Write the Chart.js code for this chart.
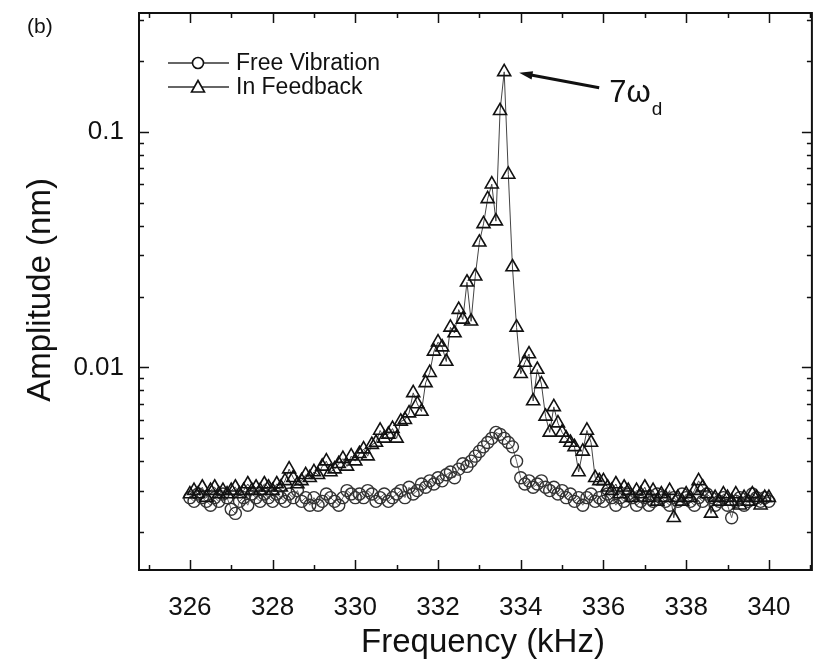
<!DOCTYPE html>
<html lang="en">
<head>
    <meta charset="UTF-8">
    <title>Amplitude vs Frequency</title>
    <script src="https://cdn.jsdelivr.net/npm/chart.js"></script>
    <style>
        body { margin: 0; background: #fff; }
        #chart { display: block; }
    </style>
</head>
<body>
    <canvas id="chart" width="821" height="665"></canvas>

<script>
    // frequency axis (kHz)
    const freq = [
        326.0, 326.1, 326.2, 326.3, 326.4, 326.5, 326.6, 326.7, 326.8, 326.9,
        327.0, 327.1, 327.2, 327.3, 327.4, 327.5, 327.6, 327.7, 327.8, 327.9,
        328.0, 328.1, 328.2, 328.3, 328.4, 328.5, 328.6, 328.7, 328.8, 328.9,
        329.0, 329.1, 329.2, 329.3, 329.4, 329.5, 329.6, 329.7, 329.8, 329.9,
        330.0, 330.1, 330.2, 330.3, 330.4, 330.5, 330.6, 330.7, 330.8, 330.9,
        331.0, 331.1, 331.2, 331.3, 331.4, 331.5, 331.6, 331.7, 331.8, 331.9,
        332.0, 332.1, 332.2, 332.3, 332.4, 332.5, 332.6, 332.7, 332.8, 332.9,
        333.0, 333.1, 333.2, 333.3, 333.4, 333.5, 333.6, 333.7, 333.8, 333.9,
        334.0, 334.1, 334.2, 334.3, 334.4, 334.5, 334.6, 334.7, 334.8, 334.9,
        335.0, 335.1, 335.2, 335.3, 335.4, 335.5, 335.6, 335.7, 335.8, 335.9,
        336.0, 336.1, 336.2, 336.3, 336.4, 336.5, 336.6, 336.7, 336.8, 336.9,
        337.0, 337.1, 337.2, 337.3, 337.4, 337.5, 337.6, 337.7, 337.8, 337.9,
        338.0, 338.1, 338.2, 338.3, 338.4, 338.5, 338.6, 338.7, 338.8, 338.9,
        339.0, 339.1, 339.2, 339.3, 339.4, 339.5, 339.6, 339.7, 339.8, 339.9,
        340.0
    ];

    // Free Vibration amplitude (nm)
    const freeVibration = [
        0.0028, 0.0027, 0.0029, 0.0028, 0.0027, 0.0026, 0.0028, 0.0027, 0.0029, 0.0028,
        0.0025, 0.0024, 0.0027, 0.0028, 0.0026, 0.0029, 0.0028, 0.0027, 0.0029, 0.0028,
        0.0027, 0.0029, 0.0028, 0.0027, 0.0029, 0.0028, 0.0030, 0.0027, 0.0028, 0.0026,
        0.0028, 0.0026, 0.0027, 0.0029, 0.0028, 0.0027, 0.0026, 0.0028, 0.0030, 0.0029,
        0.0028, 0.0029, 0.0028, 0.0030, 0.0029, 0.0027, 0.0028, 0.0029, 0.0027, 0.0028,
        0.0029, 0.0030, 0.0028, 0.0031, 0.0029, 0.0030, 0.0032, 0.0031, 0.0033, 0.0032,
        0.0034, 0.0033, 0.0035, 0.0036, 0.0034, 0.0037, 0.0039, 0.0038, 0.0040, 0.0042,
        0.0044, 0.0046, 0.0048, 0.0050, 0.0053, 0.0052, 0.0050, 0.0048, 0.0046, 0.0040,
        0.0034, 0.0032, 0.0033, 0.0031, 0.0032, 0.0033, 0.0031, 0.0030, 0.0031, 0.0029,
        0.0030, 0.0028, 0.0029, 0.0027, 0.0028, 0.0026, 0.0028, 0.0029, 0.0027, 0.0028,
        0.0027, 0.0029, 0.0028, 0.0026, 0.0028, 0.0027, 0.0029, 0.0028, 0.0026, 0.0027,
        0.0028, 0.0026, 0.0027, 0.0029, 0.0028, 0.0027, 0.0026, 0.0028, 0.0027, 0.0029,
        0.0028, 0.0027, 0.0026, 0.0028, 0.0027, 0.0029, 0.0028, 0.0026, 0.0027, 0.0028,
        0.0026, 0.0023, 0.0027, 0.0028, 0.0026, 0.0027, 0.0029, 0.0028, 0.0027, 0.0028,
        0.0027
    ];

    // In Feedback amplitude (nm)
    const inFeedback = [
        0.0029, 0.0030, 0.0029, 0.0031, 0.0028, 0.0030, 0.0031, 0.0029, 0.0030, 0.0029,
        0.0030, 0.0031, 0.0029, 0.0030, 0.0032, 0.0030, 0.0031, 0.0030, 0.0032, 0.0031,
        0.0030, 0.0032, 0.0031, 0.0033, 0.0037, 0.0034, 0.0032, 0.0033, 0.0035, 0.0034,
        0.0036, 0.0035, 0.0038, 0.0040, 0.0036, 0.0037, 0.0039, 0.0041, 0.0038, 0.0042,
        0.0040, 0.0043, 0.0045, 0.0042, 0.0047, 0.0048, 0.0054, 0.0050, 0.0052, 0.0055,
        0.0050, 0.0059, 0.0060, 0.0064, 0.0078, 0.0070, 0.0065, 0.0086, 0.0095, 0.0117,
        0.0128, 0.0122, 0.0106, 0.0148, 0.0140, 0.0176, 0.0160, 0.0230, 0.0157, 0.0244,
        0.0340, 0.0407, 0.0520, 0.0600, 0.0418, 0.1230, 0.1800, 0.0660, 0.0267, 0.0148,
        0.0094, 0.0105, 0.0114, 0.0072, 0.0098, 0.0085, 0.0062, 0.0053, 0.0068, 0.0058,
        0.0053, 0.0050, 0.0048, 0.0046, 0.0036, 0.0044, 0.0054, 0.0048, 0.0034, 0.0033,
        0.0033, 0.0031, 0.0030, 0.0032, 0.0029, 0.0031, 0.0030, 0.0028, 0.0030, 0.0029,
        0.0031, 0.0028, 0.0030, 0.0027, 0.0029, 0.0028, 0.0030, 0.0023, 0.0028, 0.0027,
        0.0029, 0.0028, 0.0030, 0.0033, 0.0031, 0.0029, 0.0024, 0.0028, 0.0027, 0.0029,
        0.0028, 0.0027, 0.0029, 0.0026, 0.0028, 0.0027, 0.0029, 0.0028, 0.0026, 0.0028,
        0.0028
    ];

    const xTicks = [326, 328, 330, 332, 334, 336, 338, 340];
    const xMinorTicks = [325, 327, 329, 331, 333, 335, 337, 339, 341];
    const yTicks = [0.01, 0.1];
    const yMinorTicks = [0.002, 0.003, 0.004, 0.005, 0.006, 0.007, 0.008, 0.009,
                         0.02, 0.03, 0.04, 0.05, 0.06, 0.07, 0.08, 0.09, 0.2, 0.3];

    const FONT = "'Liberation Sans', Arial, sans-serif";

    function pts(ys) {
        return freq.map((f, i) => ({ x: f, y: ys[i] }));
    }

    // frame, inward ticks, legend, titles and the peak label
    const decorations = {
        id: 'decorations',
        afterDraw(chart) {
            const ctx = chart.ctx;
            const a = chart.chartArea;
            const xs = chart.scales.x, ys = chart.scales.y;
            ctx.save();
            ctx.strokeStyle = '#111';
            ctx.lineWidth = 2;
            ctx.strokeRect(a.left, a.top, a.right - a.left, a.bottom - a.top);

            ctx.lineWidth = 1.5;
            ctx.beginPath();
            xTicks.concat(xMinorTicks).forEach(v => {
                const len = xTicks.includes(v) ? 10 : 5;
                const px = Math.round(xs.getPixelForValue(v)) + 0.5;
                ctx.moveTo(px, a.bottom); ctx.lineTo(px, a.bottom - len);
                ctx.moveTo(px, a.top); ctx.lineTo(px, a.top + len);
            });
            yTicks.concat(yMinorTicks).forEach(v => {
                const len = yTicks.includes(v) ? 10 : 5;
                const py = Math.round(ys.getPixelForValue(v)) + 0.5;
                if (py < a.top + 2) return;
                ctx.moveTo(a.left, py); ctx.lineTo(a.left + len, py);
                ctx.moveTo(a.right, py); ctx.lineTo(a.right - len, py);
            });
            ctx.stroke();

            // legend
            ctx.fillStyle = '#111';
            ctx.font = '23px ' + FONT;
            ctx.textBaseline = 'middle';
            const rows = [
                { y: 63, label: 'Free Vibration', style: 'circle' },
                { y: 87, label: 'In Feedback', style: 'triangle' }
            ];
            rows.forEach(r => {
                ctx.strokeStyle = '#333';
                ctx.lineWidth = 1.3;
                ctx.beginPath();
                ctx.moveTo(168, r.y); ctx.lineTo(229, r.y);
                ctx.stroke();
                ctx.fillStyle = '#fff';
                ctx.strokeStyle = '#111';
                ctx.lineWidth = 1.6;
                ctx.beginPath();
                if (r.style === 'circle') {
                    ctx.arc(198, r.y, 5.5, 0, Math.PI * 2);
                } else {
                    ctx.moveTo(198, r.y - 6.5);
                    ctx.lineTo(204.5, r.y + 5);
                    ctx.lineTo(191.5, r.y + 5);
                    ctx.closePath();
                }
                ctx.fill();
                ctx.stroke();
                ctx.fillStyle = '#111';
                ctx.fillText(r.label, 236, r.y + 1);
            });

            // panel label
            ctx.font = '21px ' + FONT;
            ctx.fillText('(b)', 27, 27);

            // axis titles
            ctx.font = '33px ' + FONT;
            ctx.textAlign = 'center';
            ctx.fillText('Frequency (kHz)', 483, 643);
            ctx.save();
            ctx.translate(41, 290);
            ctx.rotate(-Math.PI / 2);
            ctx.fillText('Amplitude (nm)', 0, 0);
            ctx.restore();

            // peak annotation, anchored on the highest point
            const iPeak = inFeedback.indexOf(Math.max(...inFeedback));
            const px = xs.getPixelForValue(freq[iPeak]);
            const py = ys.getPixelForValue(inFeedback[iPeak]);
            const tipX = px + 15, tipY = py + 1;
            const tailX = px + 95, tailY = py + 16;
            const ang = Math.atan2(tipY - tailY, tipX - tailX);
            ctx.strokeStyle = '#111';
            ctx.lineWidth = 3;
            ctx.beginPath();
            ctx.moveTo(tailX, tailY);
            ctx.lineTo(tipX + 8 * Math.cos(ang + Math.PI), tipY + 8 * Math.sin(ang + Math.PI));
            ctx.stroke();
            ctx.beginPath();
            ctx.moveTo(tipX, tipY);
            ctx.lineTo(tipX - 14 * Math.cos(ang - 0.3), tipY - 14 * Math.sin(ang - 0.3));
            ctx.lineTo(tipX - 14 * Math.cos(ang + 0.3), tipY - 14 * Math.sin(ang + 0.3));
            ctx.closePath();
            ctx.fill();

            ctx.textAlign = 'left';
            ctx.textBaseline = 'alphabetic';
            ctx.font = '31px ' + FONT;
            ctx.fillText('7\u03C9', tailX + 10, tailY + 14);
            const w = ctx.measureText('7\u03C9').width;
            ctx.font = '19px ' + FONT;
            ctx.fillText('d', tailX + 10 + w + 1, tailY + 27);
            ctx.restore();
        }
    };

    const ctx = document.getElementById('chart').getContext('2d');
    new Chart(ctx, {
        type: 'line',
        data: {
            datasets: [
                {
                    label: 'In Feedback',
                    data: pts(inFeedback),
                    borderColor: '#444',
                    borderWidth: 1,
                    pointStyle: 'triangle',
                    pointRadius: 7.5,
                    pointBorderColor: '#111',
                    pointBorderWidth: 1.6,
                    pointBackgroundColor: 'rgba(255,255,255,0)',
                    tension: 0
                },
                {
                    label: 'Free Vibration',
                    data: pts(freeVibration),
                    borderColor: '#666',
                    borderWidth: 1,
                    pointStyle: 'circle',
                    pointRadius: 6,
                    pointBorderColor: '#333',
                    pointBorderWidth: 1.4,
                    pointBackgroundColor: 'rgba(255,255,255,0)',
                    tension: 0
                }
            ]
        },
        options: {
            responsive: false,
            animation: false,
            devicePixelRatio: 1,
            layout: { padding: { top: 13, right: 8, left: 0, bottom: 0 } },
            plugins: {
                legend: { display: false },
                tooltip: { enabled: false }
            },
            scales: {
                x: {
                    type: 'linear',
                    min: 324.77,
                    max: 341.04,
                    grid: { display: false, drawTicks: false },
                    border: { display: false },
                    afterBuildTicks: s => { s.ticks = xTicks.map(v => ({ value: v })); },
                    afterFit: s => {
                        s.height = 95;
                        s.paddingLeft = 0;
                        s.paddingRight = 0;
                    },
                    ticks: {
                        padding: 22,
                        color: '#111',
                        maxRotation: 0,
                        font: { family: FONT, size: 26 }
                    }
                },
                y: {
                    type: 'logarithmic',
                    min: 0.00138,
                    max: 0.32,
                    grid: { display: false, drawTicks: false },
                    border: { display: false },
                    afterBuildTicks: s => { s.ticks = yTicks.map(v => ({ value: v })); },
                    afterFit: s => {
                        s.width = 139;
                        s.paddingTop = 0;
                        s.paddingBottom = 0;
                    },
                    ticks: {
                        padding: 15,
                        color: '#111',
                        font: { family: FONT, size: 26 },
                        callback: v => String(v)
                    }
                }
            }
        },
        plugins: [decorations]
    });
</script>
</body>
</html>
